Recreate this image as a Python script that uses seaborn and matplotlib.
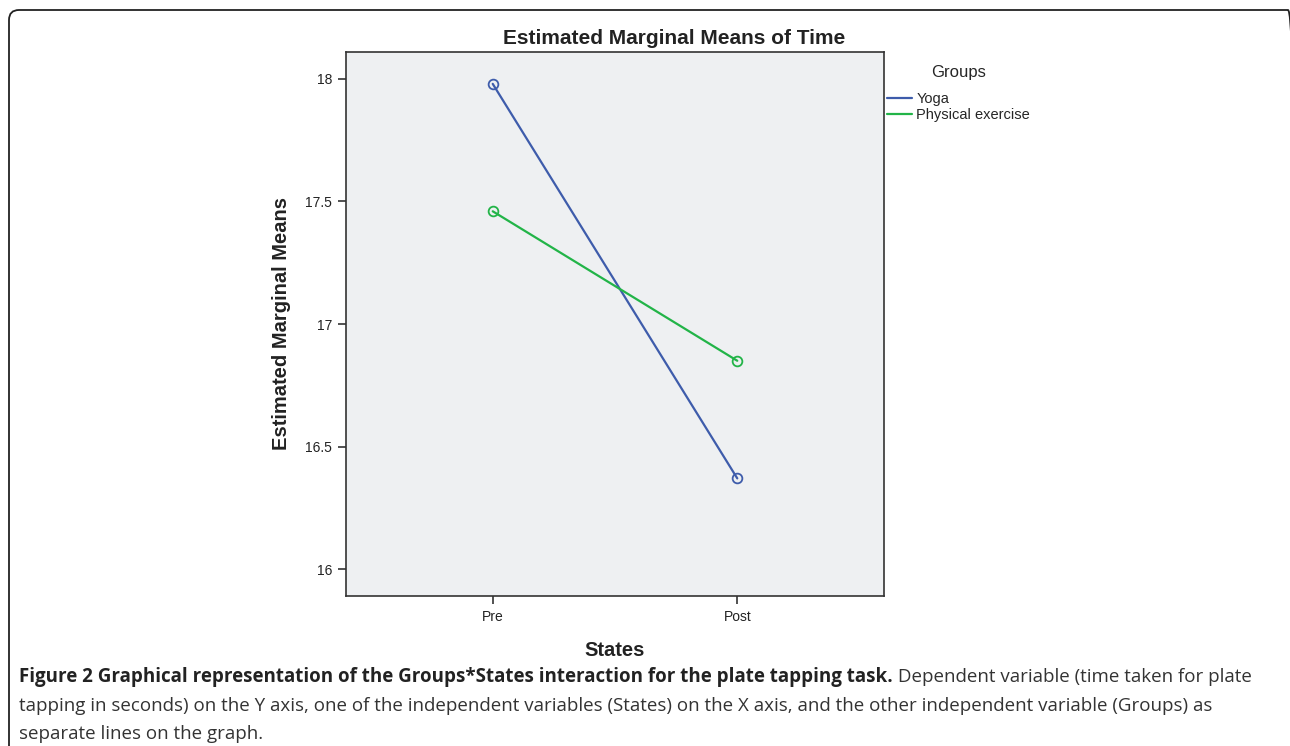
import matplotlib
matplotlib.use("Agg")
import matplotlib.pyplot as plt
import matplotlib.transforms as mtransforms
import seaborn as sns
import pandas as pd
from matplotlib.lines import Line2D
from matplotlib.patches import FancyBboxPatch

states = ["Pre", "Post"]
groups = ["Yoga", "Physical exercise"]
yoga_means = [17.98, 16.37]
physical_means = [17.46, 16.85]
yticks = [16, 16.5, 17, 17.5, 18]
ytick_labels = ["16", "16.5", "17", "17.5", "18"]
colors = {"Yoga": "#3E5CAB", "Physical exercise": "#22B448"}

caption_bold = "Figure 2 Graphical representation of the Groups*States interaction for the plate tapping task."
caption_rest1 = " Dependent variable (time taken for plate"
caption_line2 = "tapping in seconds) on the Y axis, one of the independent variables (States) on the X axis, and the other independent variable (Groups) as"
caption_line3 = "separate lines on the graph."

df = pd.DataFrame({
    "State": states * 2,
    "Mean": yoga_means + physical_means,
    "Group": [groups[0]] * 2 + [groups[1]] * 2,
})

sns.set_theme(style="white")
plt.rcParams['font.family'] = ['Liberation Sans', 'DejaVu Sans']

W, H = 1290, 746
fig = plt.figure(figsize=(W / 100, H / 100), dpi=100)
ax = fig.add_axes([346 / W, 1 - 596 / H, (884 - 346) / W, (596 - 52) / H])
ax.set_facecolor("#EEF0F2")

sns.pointplot(data=df, x="State", y="Mean", hue="Group", order=states,
              hue_order=groups, palette=colors, errorbar=None, ax=ax,
              markers="o", markersize=7, linewidth=1.6,
              markerfacecolor="none", markeredgewidth=1.3, legend=False)

ax.set_xlim(-0.6, 1.6)
ax.set_ylim(15.89, 18.11)
ax.set_yticks(yticks)
ax.set_yticklabels(ytick_labels)
ax.tick_params(axis="both", direction="out", length=6, width=1.2,
               color="#333333", labelsize=10, labelcolor="#222222", pad=4,
               left=True, bottom=True)
for s in ax.spines.values():
    s.set_color("#333333")
    s.set_linewidth(1.2)
    s.set_visible(True)

ax.set_xlabel("States", fontsize=14.5, fontweight="bold", color="#222222", labelpad=12)
ax.set_ylabel("Estimated Marginal Means", fontsize=14.5, fontweight="bold", color="#222222", labelpad=10)
ax.set_title("Estimated Marginal Means of Time", fontsize=15, fontweight="bold",
             color="#222222", pad=6, x=(674 - 346) / (884 - 346))

handles = [Line2D([0], [0], color=colors[g], lw=1.6) for g in groups]
leg = fig.legend(handles, groups, title="Groups", loc="upper left",
                 bbox_to_anchor=(887 / W, 1 - 65 / H), frameon=False,
                 fontsize=10.5, title_fontsize=12, handlelength=1.7,
                 handletextpad=0.3, borderpad=0, borderaxespad=0,
                 labelspacing=0.12)
leg._legend_box.sep = 9

# rounded border (pixel coordinates)
border = FancyBboxPatch((9, -60), 1298 - 9, 736 + 60,
                        boxstyle="round,pad=0,rounding_size=10",
                        transform=mtransforms.IdentityTransform(), fill=False,
                        edgecolor="#222222", linewidth=1.3, clip_on=False)
fig.patches.append(border)

cap_font = ['Open Sans', 'DejaVu Sans']
cap_size = 13.5
x0 = 19 / W
t1 = fig.text(x0, 1 - 677 / H, caption_bold, fontsize=cap_size, fontweight="bold",
              family=cap_font, color="#222222", va="center", ha="left")
fig.canvas.draw()
bb = t1.get_window_extent(renderer=fig.canvas.get_renderer())
fig.text(bb.x1 / W, 1 - 677 / H, caption_rest1, fontsize=cap_size,
         family=cap_font, color="#333333", va="center", ha="left")
fig.text(x0, 1 - 706 / H, caption_line2, fontsize=cap_size,
         family=cap_font, color="#333333", va="center", ha="left")
fig.text(x0, 1 - 734 / H, caption_line3, fontsize=cap_size,
         family=cap_font, color="#333333", va="center", ha="left")

fig.savefig("out.png", dpi=100)
